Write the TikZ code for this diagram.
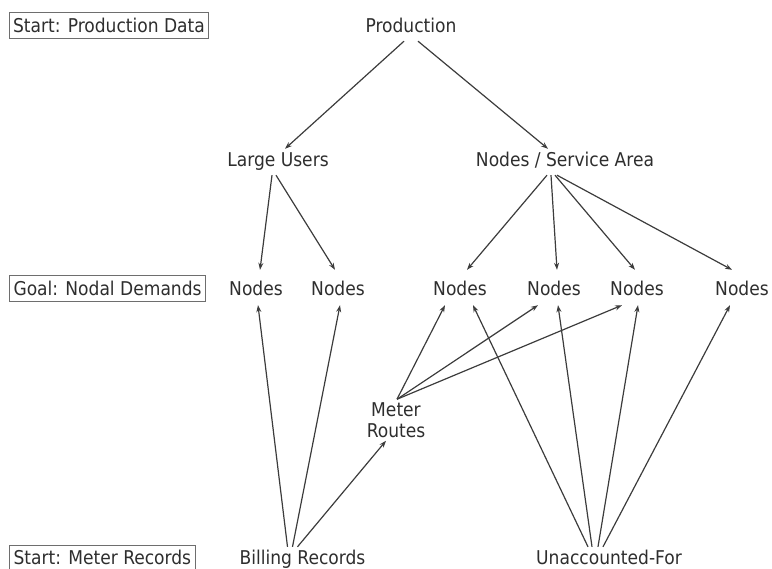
\documentclass[tikz,border=0pt]{standalone}
\usepackage{fontspec}
\setmainfont{DejaVu Sans Condensed}
\usepackage{tikz}
\usetikzlibrary{arrows.meta}
\definecolor{TextGray}{HTML}{2E2E2E}
\definecolor{LineGray}{HTML}{3C3C3C}
\definecolor{FrameGray}{HTML}{6E6E6E}

\begin{document}
\begin{tikzpicture}[
  x=1pt, y=-1pt,
  every node/.style = {font=\fontsize{19}{21}\selectfont, text=TextGray},
  lbl/.style    = {inner sep=3pt, text height=15pt, text depth=5pt},
  demand/.style = {inner xsep=3pt, inner ysep=4pt, text height=22pt, text depth=5pt},
  tag/.style    = {
    draw=FrameGray, line width=1.1pt, anchor=west,
    inner xsep=4pt, inner ysep=5.8pt, text height=14pt, text depth=0pt
  },
  arr/.style    = {-{Stealth[length=7pt, width=5pt]}, line width=1.2pt, color=LineGray},
]

\useasboundingbox (0,0) rectangle (772,569);

% Row tags on the left
\node[tag] (startprod)  at (8.5,25.5) {Start: Production Data};
\node[tag] (goal)       at (9,288.5)  {Goal: Nodal Demands};
\node[tag] (startmeter) at (9,558)    {Start: Meter Records};

% Production split
\node[lbl] (prod) at (411,28)  {Production};
\node[lbl] (lu)   at (278,162) {Large Users};
\node[lbl] (nsa)  at (565,162) {Nodes / Service Area};

% Nodal demands row
\node[demand] (n1) at (256,287.5) {Nodes};
\node[demand] (n2) at (338,287.5) {Nodes};
\node[demand] (n3) at (460,287.5) {Nodes};
\node[demand] (n4) at (554,287.5) {Nodes};
\node[demand] (n5) at (637,287.5) {Nodes};
\node[demand] (n6) at (742,287.5) {Nodes};

% Meter side
\node[align=center, inner sep=3pt] (mr) at (396,420) {Meter\\Routes};
\node[lbl] (bill) at (302.5,560) {Billing Records};
\node[lbl] (ufw)  at (609,560)   {Unaccounted-For};

% Arrows going down
\draw[arr] ([xshift=-7pt]prod.south) -- ([xshift=7pt]lu.north);
\draw[arr] ([xshift=7pt]prod.south) -- ([xshift=-17pt]nsa.north);
\draw[arr] ([xshift=-6pt]lu.south) -- ([xshift=4pt]n1.north);
\draw[arr] ([xshift=-2pt]lu.south) -- ([xshift=-3pt]n2.north);
\draw[arr] ([xshift=-18pt]nsa.south) -- ([xshift=7pt]n3.north);
\draw[arr] ([xshift=-14pt]nsa.south) -- ([xshift=3pt]n4.north);
\draw[arr] ([xshift=-10pt]nsa.south) -- ([xshift=-2pt]n5.north);
\draw[arr] ([xshift=-8pt]nsa.south) -- ([xshift=-10pt]n6.north);

% Arrows going up from billing
\draw[arr] ([xshift=-15pt]bill.north) -- ([xshift=2pt]n1.south);
\draw[arr] ([xshift=-10pt]bill.north) -- ([xshift=2pt]n2.south);
\draw[arr] ([xshift=-5pt]bill.north) -- ([xshift=-10pt]mr.south);

% Meter routes
\draw[arr] ([xshift=1pt]mr.north) -- ([xshift=-15pt]n3.south);
\draw[arr] ([xshift=1pt]mr.north) -- ([xshift=-16pt]n4.south);
\draw[arr] ([xshift=1pt]mr.north) -- ([xshift=-15pt]n5.south);

% Unaccounted-for
\draw[arr] ([xshift=-21pt]ufw.north) -- ([xshift=13pt]n3.south);
\draw[arr] ([xshift=-17pt]ufw.north) -- ([xshift=4pt]n4.south);
\draw[arr] ([xshift=-11pt]ufw.north) -- ([xshift=1pt]n5.south);
\draw[arr] ([xshift=-6pt]ufw.north) -- ([xshift=-12pt]n6.south);

\end{tikzpicture}
\end{document}
